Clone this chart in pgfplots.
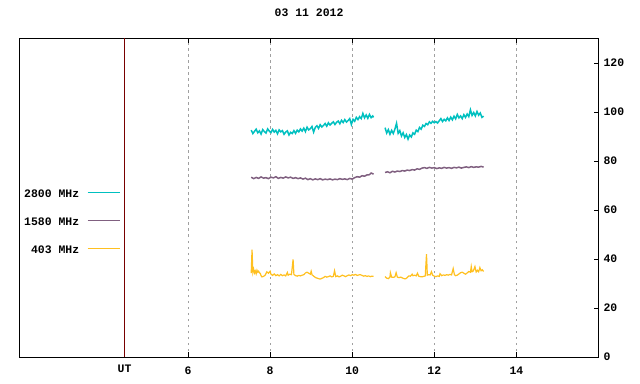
\documentclass[border=0pt]{standalone}
\usepackage{pgfplots}
\pgfplotsset{compat=1.18}
\usepackage{fontspec}
\setmainfont{Liberation Mono}
\definecolor{ccyan}{RGB}{0,192,192}
\definecolor{cpurple}{RGB}{128,96,128}
\definecolor{cyellow}{RGB}{255,192,32}
\definecolor{utred}{RGB}{120,0,0}
\definecolor{gridgray}{RGB}{160,160,160}
\begin{document}
\begin{tikzpicture}
\begin{axis}[
  scale only axis, width=578.8bp, height=318.5bp,
  xmin=1.9, xmax=16.0, ymin=0, ymax=130,
  axis line style={line width=0.9bp, black},
  every tick/.style={black, line width=0.9bp},
  xtick={6,8,10,12,14}, xtick pos=both, xticklabel pos=bottom,
  ytick={0,20,...,120}, ytick pos=right, yticklabel pos=right,
  tick align=inside, major tick length=5bp,
  xmajorgrids,
  major grid style={gridgray, line width=0.8bp, dash pattern=on 2.5bp off 3.5bp},
  extra x ticks={4.456}, extra x tick labels={UT},
  extra x tick style={grid=major, major grid style={solid, utred, line width=0.9bp}, major tick length=0pt, tick label style={yshift=2.5bp}},
  /pgf/number format/assume math mode=true,
  tick label style={font=\bfseries\fontsize{11.5}{13}\selectfont},
  xticklabel style={yshift=-6.5bp},
  yticklabel style={xshift=1.5bp},
  title={03 11 2012},
  title style={font=\bfseries\fontsize{11.5}{13}\selectfont, at={(0.5,1)}, anchor=center, yshift=20bp},
  unbounded coords=jump,
  legend cell align=right, legend plot pos=right,
  legend style={at={(0.1745,0.5252)}, anchor=north east, draw=none, fill=none,
    inner sep=0pt, outer sep=0pt, row sep=20.1bp, column sep=8bp,
    nodes={inner sep=0pt, text height=8bp, text depth=0pt, font=\bfseries\fontsize{11.5}{13}\selectfont}},
  legend image code/.code={\draw[#1] (0bp,1.5bp) -- (32.5bp,1.5bp);},
]
\addlegendimage{draw=ccyan, line width=1bp}
\addlegendentry{2800 MHz}
\addlegendimage{draw=cpurple, line width=1bp}
\addlegendentry{1580 MHz}
\addlegendimage{draw=cyellow, line width=1bp}
\addlegendentry{403 MHz}
\addplot[ccyan, line width=1.5bp, forget plot] table {
7.54 92.6
7.58 91.2
7.62 92.1
7.66 93.0
7.70 91.5
7.74 92.3
7.78 91.0
7.82 92.8
7.86 92.0
7.90 91.4
7.94 93.1
7.98 92.2
8.02 91.6
8.06 92.9
8.10 91.8
8.14 92.5
8.18 91.1
8.22 92.7
8.26 91.9
8.30 92.4
8.34 90.9
8.38 91.8
8.42 92.3
8.46 90.6
8.50 91.7
8.54 91.2
8.58 92.4
8.62 91.3
8.66 92.6
8.70 91.9
8.74 93.1
8.78 92.2
8.82 93.4
8.86 92.0
8.90 93.8
8.94 92.7
8.98 93.2
9.02 94.1
9.06 91.8
9.10 93.7
9.14 94.4
9.18 93.3
9.22 94.8
9.26 93.9
9.30 94.5
9.34 95.3
9.38 94.2
9.42 95.6
9.46 94.7
9.50 95.4
9.54 96.0
9.58 94.9
9.62 95.8
9.66 96.3
9.70 95.2
9.74 96.6
9.78 95.7
9.82 96.9
9.86 95.9
9.90 96.5
9.94 97.3
9.98 94.9
10.02 97.0
10.06 96.2
10.10 97.8
10.14 96.9
10.18 98.1
10.22 97.3
10.26 99.4
10.30 97.6
10.34 98.8
10.38 97.4
10.42 99.0
10.46 97.7
10.50 98.4
10.52 97.8
10.65 nan
10.80 93.6
10.84 91.4
10.88 92.8
10.92 90.9
10.96 92.5
11.00 91.2
11.04 93.0
11.08 95.4
11.12 91.3
11.16 92.4
11.20 90.2
11.24 91.5
11.28 89.6
11.32 90.8
11.36 88.9
11.40 90.6
11.44 89.8
11.48 91.5
11.52 90.9
11.56 92.6
11.60 92.0
11.64 93.7
11.68 93.0
11.72 94.6
11.76 94.1
11.80 95.3
11.84 94.8
11.88 96.0
11.92 95.4
11.96 96.2
12.00 95.6
12.04 96.1
12.08 95.5
12.12 96.4
12.16 97.3
12.20 96.1
12.24 97.0
12.28 96.4
12.32 97.6
12.36 96.5
12.40 97.9
12.44 96.8
12.48 98.3
12.52 97.2
12.56 99.0
12.60 97.6
12.64 98.4
12.68 97.3
12.72 98.9
12.76 97.8
12.80 99.2
12.84 98.1
12.88 100.9
12.92 98.6
12.96 99.8
13.00 98.4
13.04 100.2
13.08 98.7
13.12 99.6
13.16 97.8
13.20 98.3
};
\addplot[cpurple, line width=1.5bp, forget plot] table {
7.54 73.4
7.60 72.8
7.66 73.3
7.72 72.9
7.78 73.5
7.84 73.0
7.90 73.2
7.96 72.8
8.02 73.4
8.08 73.1
8.14 73.6
8.20 72.9
8.26 73.3
8.32 73.0
8.38 73.5
8.44 73.1
8.50 73.4
8.56 72.9
8.62 73.2
8.68 72.8
8.74 73.1
8.80 72.6
8.86 73.0
8.92 72.4
8.98 72.8
9.04 72.3
9.10 72.7
9.16 72.4
9.22 72.8
9.28 72.3
9.34 72.6
9.40 72.4
9.46 72.7
9.52 72.3
9.58 72.6
9.64 72.4
9.70 72.8
9.76 72.5
9.82 72.7
9.88 72.4
9.94 72.9
10.00 72.6
10.06 73.2
10.12 73.6
10.18 73.4
10.24 74.0
10.30 73.8
10.36 74.3
10.42 74.4
10.46 75.1
10.50 74.8
10.52 74.6
10.65 nan
10.80 75.3
10.86 75.6
10.92 75.2
10.98 75.8
11.04 75.5
11.10 75.9
11.16 75.7
11.22 76.1
11.28 75.9
11.34 76.3
11.40 76.1
11.46 76.5
11.52 76.3
11.58 76.8
11.64 76.6
11.70 77.1
11.76 77.3
11.82 77.0
11.88 77.4
11.94 77.1
12.00 77.3
12.06 76.9
12.12 77.2
12.18 77.0
12.24 77.4
12.30 77.1
12.36 77.3
12.42 77.0
12.48 77.4
12.54 77.2
12.60 77.5
12.66 77.1
12.72 77.4
12.78 77.6
12.84 77.3
12.90 77.7
12.96 77.4
13.02 77.6
13.08 77.5
13.14 77.8
13.20 77.5
};
\addplot[cyellow, line width=1.2bp, forget plot] table {
7.54 34.2
7.56 43.8
7.58 34.5
7.60 35.8
7.62 34.3
7.64 35.1
7.66 34.0
7.68 35.4
7.70 34.6
7.72 35.0
7.74 34.4
7.76 34.1
7.78 33.2
7.80 32.7
7.84 32.9
7.88 33.4
7.92 34.8
7.96 34.2
8.00 35.0
8.02 33.8
8.06 33.3
8.10 33.9
8.14 33.2
8.18 33.6
8.22 33.1
8.26 33.7
8.30 33.2
8.34 33.5
8.38 33.1
8.42 34.5
8.44 33.4
8.48 33.8
8.52 33.6
8.56 39.8
8.58 33.7
8.62 33.2
8.66 33.0
8.70 33.3
8.74 33.1
8.78 33.4
8.82 33.6
8.86 34.3
8.90 34.6
8.94 34.2
8.98 33.8
9.00 35.0
9.02 33.6
9.06 33.0
9.10 32.5
9.14 32.2
9.18 32.0
9.22 31.8
9.26 32.1
9.30 32.4
9.34 32.9
9.38 32.6
9.42 32.8
9.46 33.1
9.50 32.7
9.54 32.9
9.57 35.2
9.60 32.8
9.64 33.1
9.68 32.7
9.72 33.0
9.76 33.4
9.80 33.1
9.84 32.8
9.88 33.2
9.92 33.5
9.96 33.2
10.00 33.6
10.04 33.4
10.08 33.7
10.12 33.3
10.16 33.5
10.20 33.6
10.24 33.3
10.28 33.0
10.32 33.2
10.36 32.9
10.40 33.1
10.44 32.8
10.48 33.0
10.52 32.9
10.65 nan
10.80 32.8
10.84 32.2
10.88 32.0
10.92 32.6
10.93 34.4
10.96 32.6
11.00 32.5
11.04 32.7
11.07 34.4
11.10 32.6
11.14 32.4
11.18 32.6
11.22 32.3
11.26 32.0
11.30 31.9
11.34 32.4
11.38 33.1
11.42 33.0
11.46 33.8
11.48 33.2
11.52 33.4
11.56 33.1
11.59 34.2
11.62 33.0
11.66 32.8
11.70 32.7
11.74 32.9
11.78 33.1
11.81 42.0
11.83 33.4
11.86 33.6
11.90 33.5
11.93 34.8
11.96 33.4
12.00 33.0
12.04 32.8
12.08 33.1
12.12 32.9
12.14 34.0
12.18 33.2
12.22 33.5
12.26 33.3
12.30 33.6
12.34 33.4
12.38 33.7
12.42 33.5
12.46 36.1
12.49 33.6
12.52 33.2
12.56 33.4
12.60 33.9
12.64 34.4
12.68 34.6
12.72 34.2
12.76 33.8
12.80 34.3
12.84 34.9
12.88 34.6
12.90 36.9
12.92 34.8
12.95 35.1
12.99 36.9
13.02 34.7
13.05 35.4
13.08 34.8
13.11 36.5
13.14 35.2
13.17 35.6
13.20 34.9
};
\end{axis}
\pgfresetboundingbox
\path ([shift={(-19.7bp,-27bp)}]current axis.south west) rectangle ([shift={(41.5bp,38.5bp)}]current axis.north east);
\end{tikzpicture}
\end{document}
